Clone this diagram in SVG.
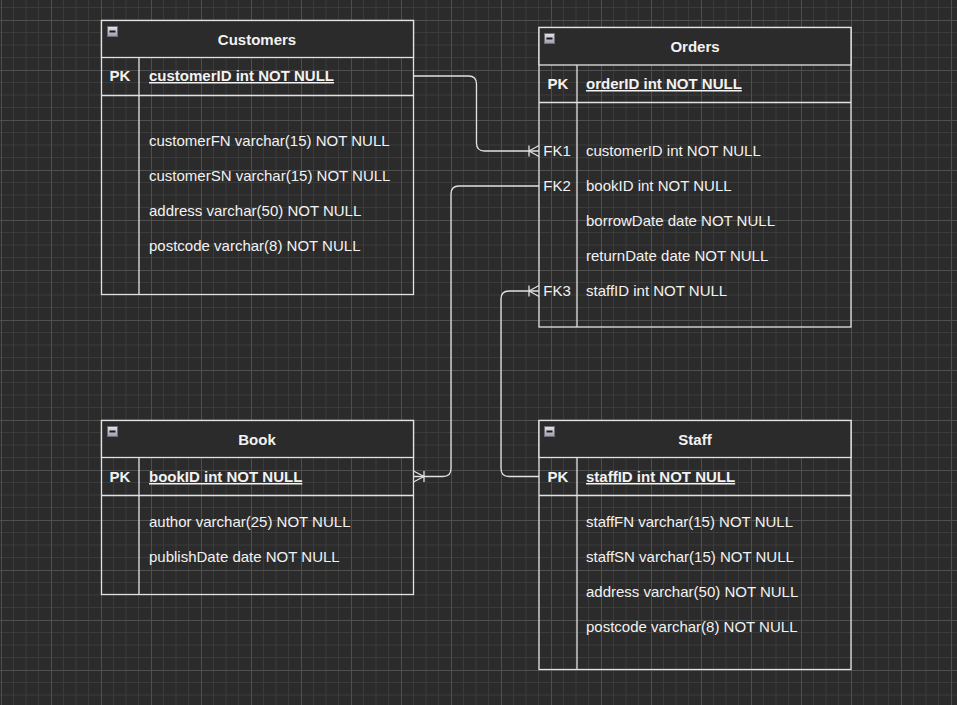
<svg xmlns="http://www.w3.org/2000/svg" width="957" height="705" viewBox="0 0 957 705">
<style>
.frame{fill:none;stroke:#e2e2e2;stroke-width:1.3}
.hdr{fill:#2b2b2b;stroke:#e2e2e2;stroke-width:1.3}
.ln{stroke:#e2e2e2;stroke-width:1.3;fill:none}
.conn{stroke:#e2e2e2;stroke-width:1.3;fill:none}
text{font-family:"Liberation Sans",Arial,sans-serif;font-size:15px;fill:#f2f2f2}
.title{font-weight:bold;text-anchor:middle}
.key{font-weight:bold;text-anchor:middle}
.fk{text-anchor:middle}
.pkf{font-weight:bold;text-decoration:underline}
.icon{fill:url(#ig);stroke:#6f6f78;stroke-width:1}
.dash{stroke:#1a1a1a;stroke-width:2}
</style>
<defs>
<linearGradient id="ig" x1="0" y1="0" x2="0" y2="1">
<stop offset="0" stop-color="#e4e4ec"/>
<stop offset="1" stop-color="#9c9cab"/>
</linearGradient>
<pattern id="grid" patternUnits="userSpaceOnUse" x="1" y="20" width="50" height="50">
<rect width="50" height="50" fill="#2b2b2b"/>
<path d="M12.5,0V50M25,0V50M37.5,0V50M0,12.5H50M0,25H50M0,37.5H50" stroke="#3b3b3b" stroke-width="1"/>
<path d="M0.5,0V50M0,0.5H50" stroke="#4f4f4f" stroke-width="1"/>
</pattern>
</defs>
<rect width="957" height="705" fill="url(#grid)"/>

<g id="connectors">
<path class="conn" d="M413.5,76 H468.5 Q476.5,76 476.5,84 V143 Q476.5,151 484.5,151 H539"/>
<path class="conn" d="M529,145.5 V156.5 M529,151 L539,145.5 M529,151 L539,156.5"/>
<path class="conn" d="M539,186 H459 Q451,186 451,194 V468.5 Q451,476.5 443,476.5 H413.5"/>
<path class="conn" d="M424,471 V482 M424,476.5 L413.5,471 M424,476.5 L413.5,482"/>
<path class="conn" d="M539,476.5 H509 Q501,476.5 501,468.5 V299 Q501,291 509,291 H539"/>
<path class="conn" d="M529,285.5 V296.5 M529,291 L539,285.5 M529,291 L539,296.5"/>
</g>

<g id="customers">
<rect class="frame" x="101.5" y="20.5" width="312" height="274"/>
<rect class="hdr" x="101.5" y="20.5" width="312" height="37"/>
<line class="ln" x1="101.5" y1="95.5" x2="413.5" y2="95.5"/>
<line class="ln" x1="139" y1="57.5" x2="139" y2="294.5"/>
<rect class="icon" x="107.5" y="26.5" width="10" height="10"/>
<line class="dash" x1="109.5" y1="31.5" x2="115.5" y2="31.5"/>
<text class="title" x="257" y="45">Customers</text>
<text class="key" x="120" y="81">PK</text>
<text class="pkf" x="149" y="81">customerID int NOT NULL</text>
<text x="149" y="146">customerFN varchar(15) NOT NULL</text>
<text x="149" y="181">customerSN varchar(15) NOT NULL</text>
<text x="149" y="216">address varchar(50) NOT NULL</text>
<text x="149" y="251">postcode varchar(8) NOT NULL</text>
</g>

<g id="orders">
<rect class="frame" x="539" y="27.5" width="312" height="299.5"/>
<rect class="hdr" x="539" y="27.5" width="312" height="37.5"/>
<line class="ln" x1="539" y1="102.5" x2="851" y2="102.5"/>
<line class="ln" x1="577" y1="65" x2="577" y2="327"/>
<rect class="icon" x="544.5" y="33.5" width="10" height="10"/>
<line class="dash" x1="546.5" y1="38.5" x2="552.5" y2="38.5"/>
<text class="title" x="695" y="52">Orders</text>
<text class="key" x="558" y="89">PK</text>
<text class="pkf" x="586" y="89">orderID int NOT NULL</text>
<text class="fk" x="557" y="156">FK1</text>
<text x="586" y="156">customerID int NOT NULL</text>
<text class="fk" x="557" y="191">FK2</text>
<text x="586" y="191">bookID int NOT NULL</text>
<text x="586" y="226">borrowDate date NOT NULL</text>
<text x="586" y="261">returnDate date NOT NULL</text>
<text class="fk" x="557" y="296">FK3</text>
<text x="586" y="296">staffID int NOT NULL</text>
</g>

<g id="book">
<rect class="frame" x="101.5" y="420.5" width="312" height="174"/>
<rect class="hdr" x="101.5" y="420.5" width="312" height="37"/>
<line class="ln" x1="101.5" y1="495.5" x2="413.5" y2="495.5"/>
<line class="ln" x1="139" y1="457.5" x2="139" y2="594.5"/>
<rect class="icon" x="107.5" y="426.5" width="10" height="10"/>
<line class="dash" x1="109.5" y1="431.5" x2="115.5" y2="431.5"/>
<text class="title" x="257" y="445">Book</text>
<text class="key" x="120" y="482">PK</text>
<text class="pkf" x="149" y="482">bookID int NOT NULL</text>
<text x="149" y="527">author varchar(25) NOT NULL</text>
<text x="149" y="562">publishDate date NOT NULL</text>
</g>

<g id="staff">
<rect class="frame" x="539" y="420.5" width="312" height="249"/>
<rect class="hdr" x="539" y="420.5" width="312" height="37"/>
<line class="ln" x1="539" y1="495.5" x2="851" y2="495.5"/>
<line class="ln" x1="577" y1="457.5" x2="577" y2="669.5"/>
<rect class="icon" x="544.5" y="426.5" width="10" height="10"/>
<line class="dash" x1="546.5" y1="431.5" x2="552.5" y2="431.5"/>
<text class="title" x="695" y="445">Staff</text>
<text class="key" x="558" y="482">PK</text>
<text class="pkf" x="586" y="482">staffID int NOT NULL</text>
<text x="586" y="527">staffFN varchar(15) NOT NULL</text>
<text x="586" y="562">staffSN varchar(15) NOT NULL</text>
<text x="586" y="597">address varchar(50) NOT NULL</text>
<text x="586" y="632">postcode varchar(8) NOT NULL</text>
</g>
</svg>
